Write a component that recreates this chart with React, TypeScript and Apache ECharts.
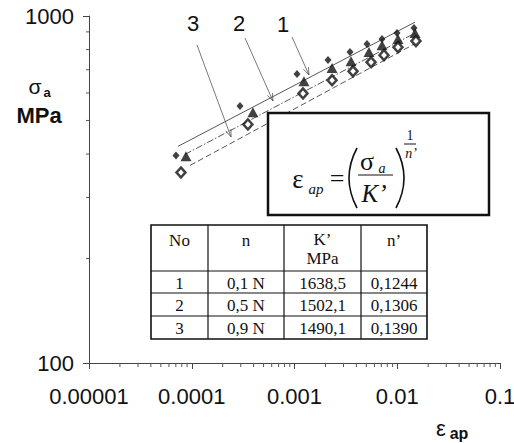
import React, { useEffect, useRef } from "react";
import * as echarts from "echarts";

// ---- data (strain ε_ap, stress σ_a in MPa) ----
const series1Strain = [7.03e-5, 2.95e-4, 1.057e-3, 2.12e-3, 3.47e-3, 5.08e-3, 7.11e-3, 9.95e-3, 1.456e-2];
const series1Stress = [396, 550, 680, 747, 787, 830, 858, 893, 923];
const series2Strain = [8.79e-5, 3.94e-4, 1.236e-3, 2.32e-3, 3.55e-3, 5.31e-3, 7.11e-3, 1.016e-2, 1.49e-2];
const series2Stress = [394, 528, 649, 708, 741, 787, 824, 858, 893];
const series3Strain = [7.85e-5, 3.52e-4, 1.21e-3, 2.32e-3, 3.71e-3, 5.56e-3, 7.43e-3, 1.016e-2, 1.52e-2];
const series3Stress = [354, 487, 598, 653, 693, 736, 771, 813, 847];

// fitted lines (end points)
const fit1Strain = [7.34e-5, 1.49e-2];
const fit1Stress = [421, 960];
const fit2Strain = [8.59e-5, 1.556e-2];
const fit2Stress = [399, 899];
const fit3Strain = [9.62e-5, 1.59e-2];
const fit3Stress = [371, 841];

// axes
const xTickValues = [1e-5, 1e-4, 1e-3, 1e-2, 1e-1];
const xTickLabels = ["0.00001", "0.0001", "0.001", "0.01", "0.1"];
const yTickValues = [100, 1000];
const yTickLabels = ["100", "1000"];
const xDecades = [1e-5, 1e-4, 1e-3, 1e-2];
const yDecades = [100];
const minorMultipliers = [2, 3, 4, 5, 6, 7, 8, 9];

// table
const tableHeader = ["No", "n", "K’", "n’"];
const tableNo = ["1", "2", "3"];
const tableN = ["0,1 N", "0,5 N", "0,9 N"];
const tableK = ["1638,5", "1502,1", "1490,1"];
const tableNPrime = ["0,1244", "0,1306", "0,1390"];

const SANS = '"Liberation Sans", Arial, sans-serif';
const SERIF = '"Liberation Serif", "Times New Roman", serif';

function labelFor(values: number[], labels: string[], v: number) {
  let best = 0;
  for (let i = 0; i < values.length; i++) {
    if (Math.abs(Math.log10(values[i]) - Math.log10(v)) < Math.abs(Math.log10(values[best]) - Math.log10(v))) best = i;
  }
  return labels[best];
}

function zip(a: number[], b: number[]) {
  return a.map((v, i) => [v, b[i]]);
}

function txt(text: string, x: number, y: number, font: string, extra: any = {}) {
  return {
    type: "text",
    x,
    y,
    z: 20,
    silent: true,
    style: { text, font, fill: "#111", textAlign: "center", textVerticalAlign: "middle", ...extra },
  };
}

function arrow(x1: number, y1: number, x2: number, y2: number) {
  const ang = Math.atan2(y2 - y1, x2 - x1);
  const L = 8;
  const a1 = ang + Math.PI - 0.35;
  const a2 = ang + Math.PI + 0.35;
  return [
    { type: "line", z: 15, silent: true, shape: { x1, y1, x2, y2 }, style: { stroke: "#555", lineWidth: 0.8 } },
    {
      type: "polyline",
      z: 15,
      silent: true,
      shape: {
        points: [
          [x2 + L * Math.cos(a1), y2 + L * Math.sin(a1)],
          [x2, y2],
          [x2 + L * Math.cos(a2), y2 + L * Math.sin(a2)],
        ],
      },
      style: { stroke: "#555", lineWidth: 0.8, fill: "none" },
    },
  ];
}

export default function App() {
  const ref = useRef<HTMLDivElement>(null);
  useEffect(() => {
    const chart = echarts.init(ref.current!, null, { renderer: "svg" });

    const xMinor: number[][] = [];
    xDecades.forEach((d) => minorMultipliers.forEach((m) => xMinor.push([d * m, 100])));
    const yMinor: number[][] = [];
    yDecades.forEach((d) => minorMultipliers.forEach((m) => yMinor.push([1e-5, d * m])));

    const graphics: any[] = [];
    // table
    const cols = [151, 208, 284, 361, 427];
    const rows = [225, 271, 293, 316, 339];
    graphics.push({
      type: "rect",
      z: 10,
      silent: true,
      shape: { x: cols[0], y: rows[0], width: cols[4] - cols[0], height: rows[4] - rows[0] },
      style: { fill: "#fff", stroke: "#111", lineWidth: 1.6 },
    });
    for (let i = 1; i < cols.length - 1; i++) {
      graphics.push({ type: "line", z: 11, silent: true, shape: { x1: cols[i], y1: rows[0], x2: cols[i], y2: rows[4] }, style: { stroke: "#111", lineWidth: 1.2 } });
    }
    for (let j = 1; j < rows.length - 1; j++) {
      graphics.push({ type: "line", z: 11, silent: true, shape: { x1: cols[0], y1: rows[j], x2: cols[4], y2: rows[j] }, style: { stroke: "#111", lineWidth: 1.2 } });
    }
    const tf = `17px ${SERIF}`;
    const cx = (i: number) => (cols[i] + cols[i + 1]) / 2;
    graphics.push(txt(tableHeader[0], cx(0), 240, tf));
    graphics.push(txt(tableHeader[1], cx(1), 240, tf));
    graphics.push(txt(tableHeader[2], cx(2), 239, tf));
    graphics.push(txt("MPa", cx(2), 258, tf));
    graphics.push(txt(tableHeader[3], cx(3), 240, tf));
    for (let r = 0; r < 3; r++) {
      const cy = (rows[r + 1] + rows[r + 2]) / 2 + 1;
      graphics.push(txt(tableNo[r], cx(0), cy, tf));
      graphics.push(txt(tableN[r], cx(1), cy, tf));
      graphics.push(txt(tableK[r], cx(2), cy, tf));
      graphics.push(txt(tableNPrime[r], cx(3), cy, tf));
    }

    // formula box
    graphics.push({
      type: "rect",
      z: 10,
      silent: true,
      shape: { x: 268, y: 113, width: 221, height: 102 },
      style: { fill: "#fff", stroke: "#111", lineWidth: 2.5 },
    });
    graphics.push(txt("ε", 298, 179, `27px ${SERIF}`));
    graphics.push(txt("ap", 316, 189, `italic 15px ${SERIF}`));
    graphics.push(txt("=", 337, 178, `26px ${SERIF}`));
    graphics.push({ type: "bezierCurve", z: 20, silent: true, shape: { x1: 357, y1: 148, cpx1: 341, cpy1: 178, x2: 357, y2: 208 }, style: { stroke: "#111", lineWidth: 1.6, fill: "none" } });
    graphics.push(txt("σ", 367, 161, `26px ${SERIF}`));
    graphics.push(txt("a", 382, 168, `italic 14px ${SERIF}`));
    graphics.push({ type: "line", z: 20, silent: true, shape: { x1: 358, y1: 175, x2: 393, y2: 175 }, style: { stroke: "#111", lineWidth: 1 } });
    graphics.push(txt("K’", 374, 193, `italic 25px ${SERIF}`));
    graphics.push({ type: "bezierCurve", z: 20, silent: true, shape: { x1: 396, y1: 148, cpx1: 412, cpy1: 178, x2: 396, y2: 208 }, style: { stroke: "#111", lineWidth: 1.6, fill: "none" } });
    graphics.push(txt("1", 410, 135, `14px ${SERIF}`));
    graphics.push({ type: "line", z: 20, silent: true, shape: { x1: 404, y1: 144, x2: 416, y2: 144 }, style: { stroke: "#111", lineWidth: 1 } });
    graphics.push(txt("n’", 411, 153, `italic 14px ${SERIF}`));

    // axis names
    graphics.push(txt("σ", 35, 86, `21px ${SANS}`));
    graphics.push(txt("a", 47, 92, `bold 13px ${SANS}`));
    graphics.push(txt("MPa", 39, 115, `bold 22px ${SANS}`));
    graphics.push(txt("ε", 441, 428, `22px ${SANS}`));
    graphics.push(txt("ap", 459, 433, `bold 16px ${SANS}`));

    // curve labels and arrows
    graphics.push(txt("3", 193, 23, `22px ${SANS}`));
    graphics.push(txt("2", 239, 23, `22px ${SANS}`));
    graphics.push(txt("1", 283, 24, `22px ${SANS}`));
    graphics.push(...arrow(197, 45, 231, 137));
    graphics.push(...arrow(245, 38, 273, 101));
    graphics.push(...arrow(292, 37, 309, 75));

    const fitStyle = (type: any) => ({ color: "#444", width: 0.9, type });

    chart.setOption({
      animation: false,
      backgroundColor: "#fff",
      grid: { left: 89, right: 14, top: 16, bottom: 80, containLabel: false, outerBoundsMode: "none" },
      xAxis: {
        type: "log",
        logBase: 10,
        min: 1e-5,
        max: 1e-1,
        axisLine: { show: true, lineStyle: { color: "#444", width: 1 } },
        axisTick: { show: true, length: 6, lineStyle: { color: "#444" } },
        splitLine: { show: false },
        axisLabel: {
          margin: 22,
          fontSize: 22,
          fontFamily: SANS,
          color: "#111",
          formatter: (v: number) => labelFor(xTickValues, xTickLabels, v),
        },
      },
      yAxis: {
        type: "log",
        logBase: 10,
        min: 100,
        max: 1000,
        axisLine: { show: true, lineStyle: { color: "#444", width: 1 } },
        axisTick: { show: true, length: 6, lineStyle: { color: "#444" } },
        splitLine: { show: false },
        axisLabel: {
          margin: 15,
          fontSize: 22,
          fontFamily: SANS,
          color: "#111",
          formatter: (v: number) => labelFor(yTickValues, yTickLabels, v),
        },
      },
      graphic: { elements: graphics },
      series: [
        { type: "line", data: zip(fit1Strain, fit1Stress), symbol: "none", lineStyle: fitStyle("solid"), silent: true, z: 2 },
        { type: "line", data: zip(fit2Strain, fit2Stress), symbol: "none", lineStyle: fitStyle([7, 2, 1.5, 2]), silent: true, z: 2 },
        { type: "line", data: zip(fit3Strain, fit3Stress), symbol: "none", lineStyle: fitStyle([6, 3]), silent: true, z: 2 },
        {
          type: "scatter",
          name: "1",
          data: zip(series1Strain, series1Stress),
          symbol: "diamond",
          symbolSize: [7, 8],
          itemStyle: { color: "#111" },
          z: 5,
        },
        {
          type: "scatter",
          name: "2",
          data: zip(series2Strain, series2Stress),
          symbol: "triangle",
          symbolSize: [11, 10],
          itemStyle: { color: "#111" },
          z: 5,
        },
        {
          type: "scatter",
          name: "3",
          data: zip(series3Strain, series3Stress),
          symbol: "diamond",
          symbolSize: [9, 10],
          itemStyle: { color: "#fff", borderColor: "#111", borderWidth: 2.5 },
          z: 5,
        },
        {
          type: "custom",
          silent: true,
          clip: false,
          data: xMinor,
          renderItem: (_p: any, api: any) => {
            const p = api.coord([api.value(0), api.value(1)]);
            return { type: "line", shape: { x1: p[0], y1: p[1], x2: p[0], y2: p[1] + 4 }, style: { stroke: "#555", lineWidth: 1 } };
          },
          z: 3,
        },
        {
          type: "custom",
          silent: true,
          clip: false,
          data: yMinor,
          renderItem: (_p: any, api: any) => {
            const p = api.coord([api.value(0), api.value(1)]);
            return { type: "line", shape: { x1: p[0] - 3, y1: p[1], x2: p[0], y2: p[1] }, style: { stroke: "#555", lineWidth: 1 } };
          },
          z: 3,
        },
      ],
    });
    return () => chart.dispose();
  }, []);
  return <div ref={ref} style={{ position: "fixed", left: 0, top: 0, width: 514, height: 443 }} />;
}
